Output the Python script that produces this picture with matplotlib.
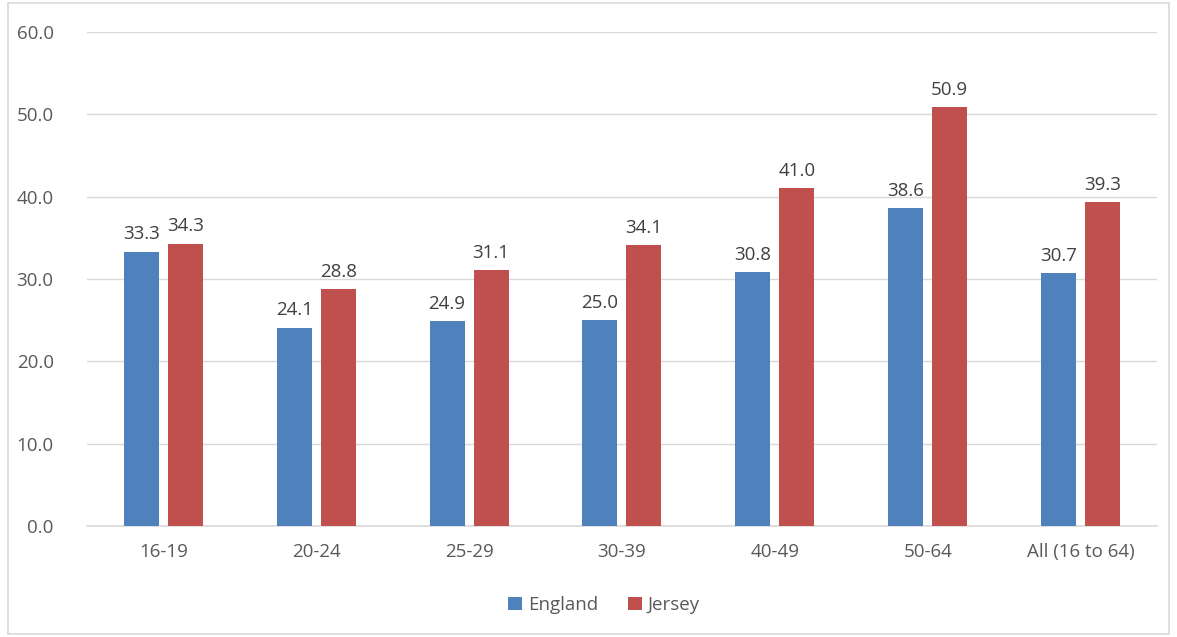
import numpy as np
import matplotlib.pyplot as plt
from matplotlib.patches import Rectangle

categories = ['16-19', '20-24', '25-29', '30-39', '40-49', '50-64', 'All (16 to 64)']
england = [33.3, 24.1, 24.9, 25.0, 30.8, 38.6, 30.7]
jersey = [34.3, 28.8, 31.1, 34.1, 41.0, 50.9, 39.3]
y_ticks = [0, 10, 20, 30, 40, 50, 60]

plt.rcParams['font.family'] = ['Open Sans', 'DejaVu Sans']
text_col = '#595959'


def main():
    fig = plt.figure(figsize=(11.77, 6.37), dpi=100)
    fig.patches.append(Rectangle((0.007, 0.004), 0.986, 0.992, transform=fig.transFigure,
                                 fill=False, edgecolor='#D9D9D9', lw=1.2))
    ax = fig.add_axes([0.0739, 0.1743, 0.9091, 0.7755])

    x = np.arange(len(categories))
    w = 0.229
    off = 0.144
    b1 = ax.bar(x - off, england, w, color='#4F81BD', label='England', zorder=3)
    b2 = ax.bar(x + off, jersey, w, color='#C0504D', label='Jersey', zorder=3)
    for bars in (b1, b2):
        ax.bar_label(bars, labels=[f'{v:.1f}' for v in bars.datavalues], padding=6,
                     fontsize=13.5, color='#404040')

    ax.set_xlim(-0.5, len(categories) - 0.5)
    ax.set_ylim(0, 60)
    ax.set_yticks(y_ticks)
    ax.set_yticklabels([f'{v:.1f}' for v in y_ticks])
    ax.set_xticks(x)
    ax.set_xticklabels(categories)
    ax.grid(axis='y', color='#D9D9D9', lw=1, zorder=0)
    for s in ('top', 'right', 'left'):
        ax.spines[s].set_visible(False)
    ax.spines['bottom'].set_color('#D9D9D9')
    ax.spines['bottom'].set_linewidth(1.2)
    ax.tick_params(axis='both', length=0, labelsize=13.5, colors=text_col)
    ax.tick_params(axis='x', pad=12)
    ax.tick_params(axis='y', pad=24)

    leg = ax.legend(loc='center', bbox_to_anchor=(0.483, -0.16), ncol=2, frameon=False,
                    fontsize=13.5, handlelength=0.75, handleheight=0.75,
                    handletextpad=0.3, columnspacing=1.6)
    for t in leg.get_texts():
        t.set_color(text_col)

    fig.savefig('out.png', dpi=100)


if __name__ == "__main__":
    main()
